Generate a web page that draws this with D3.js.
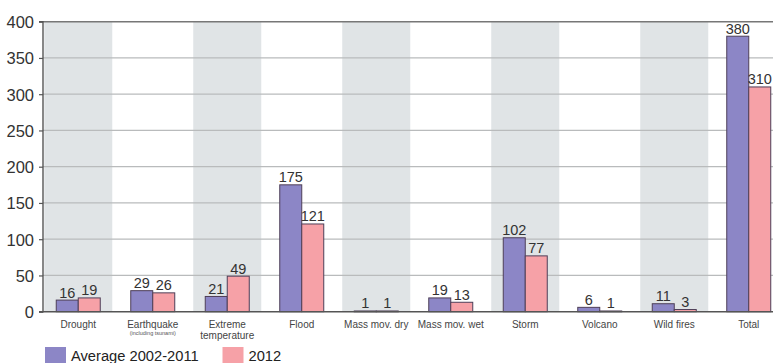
<!DOCTYPE html>
<html><head><meta charset="utf-8">
<script src="https://cdn.jsdelivr.net/npm/d3@7"></script>
<style>
body{margin:0;background:#fff;}
svg{display:block;}
</style></head>
<body>
<svg id="c" width="773" height="363"></svg>
<script>
const categories = ["Drought","Earthquake","Extreme temperature","Flood","Mass mov. dry","Mass mov. wet","Storm","Volcano","Wild fires","Total"];
const labelLines = [["Drought"],["Earthquake"],["Extreme","temperature"],["Flood"],["Mass mov. dry"],["Mass mov. wet"],["Storm"],["Volcano"],["Wild fires"],["Total"]];
const subLabels = ["","(including tsunami)","","","","","","","",""];
const avgValues = [16,29,21,175,1,19,102,6,11,380];
const values2012 = [19,26,49,121,1,13,77,1,3,310];
const seriesNames = ["Average 2002-2011","2012"];
const yTicks = [0,50,100,150,200,250,300,350,400];
const colors = ["#8c86c6","#f6a1a7"];

const svg = d3.select("#c");
const narrow = "'Liberation Sans Narrow','Arial Narrow',sans-serif";
const sans = "'Liberation Sans',Arial,sans-serif";

const x = d3.scaleBand().domain(categories).range([41, 786]).paddingInner(0).paddingOuter(0);
const y = d3.scaleLinear().domain([0,400]).range([311.7, 21.7]);

// shaded bands
const bandW = 68;
svg.append("g").selectAll("rect").data(categories.filter((d,i)=>i%2===0)).join("rect")
  .attr("x", d => x(d) + x.bandwidth()/2 - bandW/2)
  .attr("y", y(400)).attr("width", bandW).attr("height", y(0)-y(400))
  .attr("fill", "#e0e4e6");

// grid
svg.append("g").selectAll("line").data(yTicks.filter(t=>t>0)).join("line")
  .attr("x1", 43).attr("x2", 773)
  .attr("y1", d=>y(d)).attr("y2", d=>y(d))
  .attr("stroke", d => d===400 ? "#777" : "#b9bbbc")
  .attr("stroke-width", d => d===400 ? 1.6 : 1.2);

// y axis
const yAxis = d3.axisLeft(y).tickValues(yTicks).tickSize(4).tickPadding(5).tickFormat(d3.format("d"));
const ga = svg.append("g").attr("transform","translate(43,0)").call(yAxis);
ga.select(".domain").attr("stroke","#555").attr("stroke-width",1.4).attr("d","M-4,"+y(400)+"H0V"+y(0)+"H-4");
ga.selectAll(".tick line").attr("stroke","#555").attr("stroke-width",1.2);
ga.selectAll(".tick text").attr("font-family", narrow).attr("font-size", 16.5).attr("fill","#333").attr("dy","0.36em");

// bars
const barW = 22;
const series = [avgValues, values2012];
series.forEach((vals, si) => {
  svg.append("g").selectAll("rect").data(categories).join("rect")
    .attr("x", (d,i) => x(d) + x.bandwidth()/2 - barW + si*barW)
    .attr("y", (d,i) => y(vals[i]))
    .attr("width", barW)
    .attr("height", (d,i) => Math.max(0.8, y(0) - y(vals[i])))
    .attr("fill", colors[si])
    .attr("stroke", "#4e3f58").attr("stroke-width", 1);
  svg.append("g").selectAll("text").data(categories).join("text")
    .attr("x", (d,i) => x(d) + x.bandwidth()/2 - barW/2 + si*barW)
    .attr("y", (d,i) => y(vals[i]) - 2.5)
    .attr("text-anchor","middle")
    .attr("font-family", narrow).attr("font-size", 14.5).attr("fill","#333")
    .text((d,i) => vals[i]);
});

// baseline
svg.append("line").attr("x1",39).attr("x2",773).attr("y1",y(0)).attr("y2",y(0))
  .attr("stroke","#555").attr("stroke-width",1.4);

// category labels
const gl = svg.append("g");
categories.forEach((c,i) => {
  const cx = x(c) + x.bandwidth()/2;
  labelLines[i].forEach((ln,j) => {
    gl.append("text").attr("x",cx).attr("y",328 + j*10.5)
      .attr("text-anchor","middle").attr("font-family",sans).attr("font-size",10)
      .attr("fill","#444").text(ln);
  });
  if (subLabels[i]) {
    gl.append("text").attr("x",cx).attr("y",335)
      .attr("text-anchor","middle").attr("font-family",sans).attr("font-size",5.5)
      .attr("fill","#555").text(subLabels[i]);
  }
});

// legend
const lg = svg.append("g");
const legX = [45, 222.5];
seriesNames.forEach((n,i) => {
  lg.append("rect").attr("x",legX[i]).attr("y",347).attr("width",21).attr("height",18)
    .attr("fill",colors[i]);
  lg.append("text").attr("x",legX[i]+26).attr("y",361)
    .attr("font-family",sans).attr("font-size",14.7).attr("fill","#222").text(n);
});
</script>
</body></html>
